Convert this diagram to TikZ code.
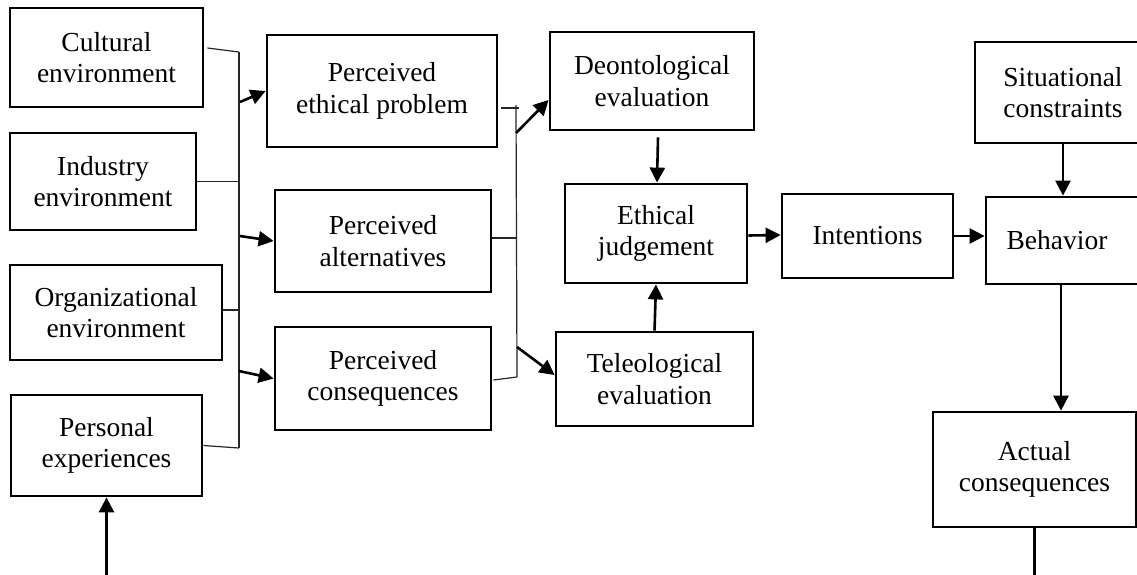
\documentclass[tikz,border=0pt]{standalone}
\usepackage{fontspec}
\setmainfont{Liberation Serif}
\usetikzlibrary{arrows.meta}
\begin{document}
\begin{tikzpicture}[x=1pt,y=-1pt,
  box/.style={draw=black,line width=2.8pt,align=center,inner sep=0pt,
    font=\fontsize{27.5}{31.5}\selectfont},
  arr/.style={line width=2.6pt,-{Triangle[length=15pt,width=15pt]}},
  plain/.style={line width=2.6pt},
  brk/.style={line width=1.2pt,draw=black!85}]
\useasboundingbox (0,0) rectangle (1137,574);

% factor boxes on the left
\node[box,minimum width=193pt,minimum height=99pt]  (cult) at (106.5,57.5) {Cultural\\environment};
\node[box,minimum width=186pt,minimum height=97pt]  (ind)  at (103,181.5) {Industry\\environment};
\node[box,minimum width=212pt,minimum height=95pt]  (org)  at (116,312.5) {Organizational\\environment};
\node[box,minimum width=191pt,minimum height=101pt] (pers) at (106.5,445.5) {Personal\\experiences};

% perceptions
\node[box,minimum width=230pt,minimum height=112pt] (pep)  at (382,91)    {Perceived\\ethical problem};
\node[box,minimum width=216pt,minimum height=102pt] (palt) at (383,241)   {Perceived\\alternatives};
\node[box,minimum width=216pt,minimum height=103pt] (pcon) at (383,378.5) {Perceived\\consequences};

% evaluations and judgement
\node[box,minimum width=204pt,minimum height=98pt] (deon) at (652,81)    {Deontological\\evaluation};
\node[box,minimum width=182pt,minimum height=99pt] (ethj) at (656,233.5) {Ethical\\judgement};
\node[box,minimum width=197pt,minimum height=94pt] (tele) at (654.5,379) {Teleological\\evaluation};

% intentions, behavior and outcomes (the right column runs past the edge)
\node[box,minimum width=171pt,minimum height=84pt]  (intent) at (867.5,236) {Intentions};
\node[box,minimum width=176pt,minimum height=101pt] (sit)    at (1063,92.5) {Situational\\constraints};
\node[box,minimum width=160pt,minimum height=87pt]  (behav)  at (1066,240.5) {Behavior\hspace*{18pt}};
\node[box,minimum width=203pt,minimum height=115pt] (actual) at (1034.5,469.5) {Actual\\consequences};

% left bracket
\coordinate (LT) at (239,52);
\coordinate (LB) at (239,448);
\draw[brk] (LT) -- (LB);
\draw[brk] ([xshift=3pt,yshift=9.5pt]cult.east) -- (LT);
\draw[brk] (ind.east) -- (ind.east -| LT);
\draw[brk] ([yshift=2.5pt]org.east) -- ([yshift=2.5pt]org.east -| LT);
\draw[brk] (pers.east) -- (LB);

\coordinate (L1) at (240,102);
\coordinate (L2) at (240,236);
\coordinate (L3) at (239,371);
\draw[arr] (L1) -- (pep.west);
\draw[arr] (L2) -- (palt.west);
\draw[arr] (L3) -- (pcon.west);

% middle bracket
\coordinate (MT) at (516,105);
\coordinate (MB) at (517,377);
\coordinate (MTa) at (501,108);
\coordinate (MTb) at (519,108);
\draw[brk] (MT) -- (MB);
\draw[brk] (MTa) -- (MTb);
\draw[brk] ([yshift=3pt]palt.east) -- ([yshift=3pt]palt.east -| MT);
\draw[brk] ([xshift=1pt,yshift=-1.5pt]pcon.east) -- (MB);

\coordinate (M1) at (516,133);
\coordinate (M2) at (517,347);
\draw[arr] (M1) -- ([yshift=-19pt]deon.west);
\draw[arr] (M2) -- ([yshift=4pt]tele.west);

% evaluations into judgement
\draw[arr] ([xshift=6pt,yshift=-6pt]deon.south) -- ([xshift=1pt]ethj.north);
\draw[arr] (tele.north) -- (ethj.south);

% main chain
\draw[arr] ([yshift=-2pt]ethj.east) -- ([yshift=1pt]intent.west);
\draw[arr] (intent.east) -- (intent.east -| behav.west);
\draw[arr] (sit.south) -- (sit.south |- behav.north);
\draw[arr] ([xshift=-5pt]behav.south) -- ([xshift=-5pt]behav.south |- actual.north);

% feedback ends running off the lower edge
\coordinate (fbA) at (1034.5,580);
\coordinate (fbP) at (106.5,580);
\draw[plain] (actual.south) -- (fbA);
\draw[arr] (fbP) -- (pers.south);
\end{tikzpicture}
\end{document}
